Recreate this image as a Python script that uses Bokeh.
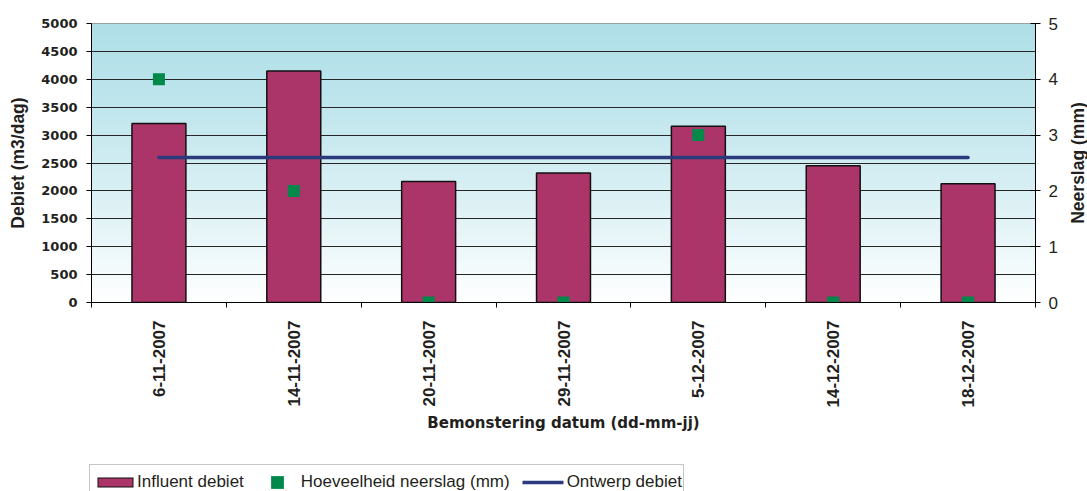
import math

import numpy as np
from bokeh.core.properties import value
from bokeh.embed import file_html
from bokeh.layouts import column, row
from bokeh.models import FixedTicker, Legend, LegendItem, LinearAxis, Range1d, Spacer
from bokeh.plotting import figure
from bokeh.resources import INLINE

# Sampling dates and measured values
datums = ["6-11-2007", "14-11-2007", "20-11-2007", "29-11-2007",
          "5-12-2007", "14-12-2007", "18-12-2007"]
influent_debiet = [3210, 4150, 2170, 2320, 3160, 2450, 2130]      # m3/dag
neerslag_mm = [4, 2, 0, 0, 3, 0, 0]                                 # mm
ontwerp_debiet = [2600, 2600, 2600, 2600, 2600, 2600, 2600]         # m3/dag

debiet_ticks = [0, 500, 1000, 1500, 2000, 2500, 3000, 3500, 4000, 4500, 5000]
neerslag_ticks = [0, 1, 2, 3, 4, 5]

# category centres on a numeric axis so ticks can sit between the dates
xs = [i + 0.5 for i in range(len(datums))]
bounds = list(range(len(datums) + 1))

TEXT = "#231f20"
BAR = "#ab3468"
GREEN = "#00894a"
NAVY = "#2b3a7c"
EDGE = "#111111"

Y_MAX = 5000
TOP, BOTTOM = 23, 162          # borders around the plotting frame
CHART_H = 464
LEGEND_LEFT = 89

p = figure(width=1060, height=CHART_H,
           x_range=Range1d(0, len(datums)), y_range=Range1d(0, Y_MAX),
           output_backend="svg", toolbar_location=None,
           min_border_left=91, min_border_right=23,
           min_border_top=TOP, min_border_bottom=BOTTOM)
p.extra_y_ranges = {"neerslag": Range1d(0, 5)}

# vertical blue-to-white background gradient
n = 280
img = np.empty((n, 1), dtype=np.uint32)
view = img.view(dtype=np.uint8).reshape((n, 1, 4))
top_rgb = np.array([176, 223, 232], dtype=float)
for i in range(n):
    t = (1 - i / (n - 1)) ** 1.3
    rgb = top_rgb + (255 - top_rgb) * t
    view[i, 0, 0:3] = np.round(rgb).astype(np.uint8)
    view[i, 0, 3] = 255
p.image_rgba(image=[img], x=0, y=0, dw=len(datums), dh=Y_MAX, level="image")

p.background_fill_color = "white"
p.border_fill_color = "white"
p.outline_line_color = "#8c8c8c"

p.xgrid.visible = False
p.ygrid.ticker = FixedTicker(ticks=debiet_ticks[1:-1])
p.ygrid.grid_line_color = "#262626"
p.ygrid.grid_line_width = 1

p.vbar(x=xs, top=influent_debiet, width=0.4, bottom=0,
       fill_color=BAR, line_color=EDGE, line_width=1.5)
p.line(xs, ontwerp_debiet, line_color=NAVY, line_width=3.5, line_cap="round")
p.scatter(xs, neerslag_mm, y_range_name="neerslag", marker="square",
          size=12, fill_color=GREEN, line_color=None)

# x axis
xa = p.xaxis[0]
xa.ticker = FixedTicker(ticks=xs, minor_ticks=bounds)
xa.major_label_overrides = {x: d for x, d in zip(xs, datums)}
xa.major_label_orientation = math.pi / 2
xa.major_tick_in = 0
xa.major_tick_out = 0
xa.minor_tick_in = 0
xa.minor_tick_out = 5
xa.minor_tick_line_color = "black"
xa.axis_line_color = "black"
xa.major_label_standoff = 13
xa.major_label_text_font = "Liberation Sans"
xa.major_label_text_font_size = "17px"
xa.major_label_text_font_style = "bold"
xa.major_label_text_color = TEXT
xa.axis_label = "Bemonstering datum (dd-mm-jj)"
xa.axis_label_text_font = "DejaVu Sans"
xa.axis_label_text_font_size = "15px"
xa.axis_label_text_font_style = "bold"
xa.axis_label_text_color = TEXT
xa.axis_label_standoff = 4

# left axis
ya = p.yaxis[0]
ya.ticker = FixedTicker(ticks=debiet_ticks)
ya.major_tick_in = 0
ya.major_tick_out = 5
ya.major_tick_line_color = "black"
ya.axis_line_color = "black"
ya.major_label_standoff = 9
ya.major_label_text_font = "DejaVu Sans"
ya.major_label_text_font_size = "13px"
ya.major_label_text_font_style = "bold"
ya.major_label_text_color = TEXT
ya.axis_label = "Debiet (m3/dag)"
ya.axis_label_text_font = "Liberation Sans"
ya.axis_label_text_font_size = "17.5px"
ya.axis_label_text_font_style = "bold"
ya.axis_label_text_color = TEXT
ya.axis_label_standoff = 10

# right axis for precipitation
ra = LinearAxis(y_range_name="neerslag", ticker=FixedTicker(ticks=neerslag_ticks))
ra.major_tick_in = 5
ra.major_tick_out = 5
ra.major_tick_line_color = "black"
ra.axis_line_color = "black"
ra.major_label_standoff = 8
ra.major_label_text_font = "Liberation Sans"
ra.major_label_text_font_size = "17px"
ra.major_label_text_color = TEXT
p.add_layout(ra, "right")

# title strip for the right axis, text reading bottom to top
rt = figure(width=27, height=CHART_H, x_range=Range1d(0, 1), y_range=Range1d(0, Y_MAX),
            output_backend="svg", toolbar_location=None,
            x_axis_location=None, y_axis_location=None,
            min_border_left=0, min_border_right=0,
            min_border_top=TOP, min_border_bottom=BOTTOM)
rt.grid.visible = False
rt.outline_line_color = None
rt.text(x=[0.66], y=[Y_MAX / 2], text=["Neerslag (mm)"], angle=math.pi / 2,
        text_align="center", text_baseline="middle",
        text_font=value("Liberation Sans"), text_font_size="17.5px",
        text_font_style="bold", text_color=TEXT)

# legend strip below the chart
lg = figure(width=1087 - LEGEND_LEFT, height=491 - CHART_H,
            x_range=Range1d(0, 1), y_range=Range1d(0, 1),
            output_backend="svg", toolbar_location=None,
            x_axis_location=None, y_axis_location=None, min_border=0)
lg.grid.visible = False
lg.outline_line_color = None
# swatch renderers carry no visible points; they only supply legend glyphs
nan = [float("nan")]
# outlined block for the bars, built from two dashed strokes
sw_edge = lg.line(x=nan, y=nan, line_color=EDGE, line_width=10, line_dash="0 6 36 2")
sw_fill = lg.line(x=nan, y=nan, line_color=BAR, line_width=8, line_dash="0 7 34 3")
sw_rain = lg.scatter(x=nan, y=nan, marker="square", fill_color=GREEN, line_color=None)
sw_design = lg.line(x=nan, y=nan, line_color=NAVY, line_width=3.5, line_dash="0 1 41 2")

legend = Legend(
    items=[
        LegendItem(label="Influent debiet", renderers=[sw_edge, sw_fill]),
        LegendItem(label="Hoeveelheid neerslag (mm)", renderers=[sw_rain]),
        LegendItem(label="Ontwerp debiet", renderers=[sw_design]),
    ],
    orientation="horizontal", location="top_left",
    glyph_width=44, glyph_height=32, label_standoff=2, spacing=11,
    padding=1, margin=0, label_height=20, label_width=0,
    border_line_color="#8c8c8c", border_line_width=1,
    background_fill_color="white", background_fill_alpha=1,
    label_text_font="Liberation Sans", label_text_font_size="17px",
    label_text_color=TEXT,
)
lg.add_layout(legend, "center")

layout = column(row(p, rt),
                row(Spacer(width=LEGEND_LEFT, height=491 - CHART_H), lg))

open("out.html", "w").write(file_html(layout, INLINE))
